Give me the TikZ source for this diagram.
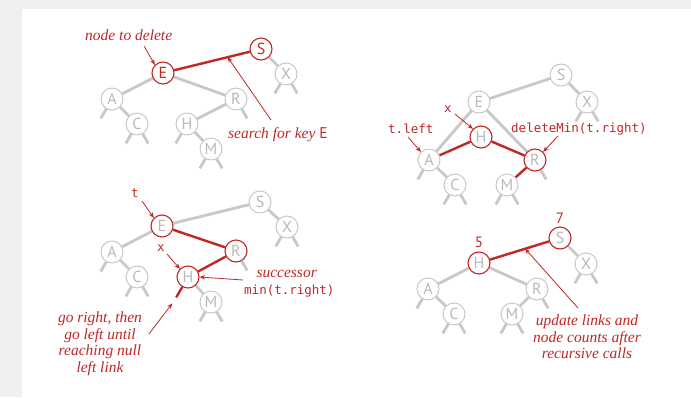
\documentclass[tikz,border=0pt]{standalone}
\usepackage{fontspec}
\setsansfont{PT Sans}
\setmonofont{DejaVu Sans Mono}
\newfontfamily\labfont{Liberation Serif}
\usetikzlibrary{arrows.meta,calc}
\definecolor{myred}{RGB}{192,40,38}
\definecolor{egray}{RGB}{200,200,200}
\definecolor{ngray}{RGB}{196,196,196}
\definecolor{ltxt}{RGB}{185,185,185}
\definecolor{pagegray}{RGB}{239,239,239}
\pgfdeclarelayer{back}
\pgfdeclarelayer{bg}
\pgfsetlayers{back,bg,main}
\tikzset{
  nd/.style={circle, draw=ngray, line width=0.9pt, fill=white, inner sep=0pt,
    minimum size=22pt, text=ltxt, font=\sffamily\fontsize{16}{16}\selectfont},
  rnd/.style={nd, draw=myred, line width=1.1pt},
  rndr/.style={rnd, text=myred},
  gedge/.style={draw=egray, line width=2.8pt},
  redge/.style={draw=myred, line width=2.4pt},
  arr/.style={-{Stealth[length=5.5pt,width=4.5pt]}, draw=myred, line width=0.8pt},
  lab/.style={text=myred, font=\labfont\itshape\fontsize{15.5}{16.5}\selectfont, align=center, inner sep=0pt},
  tlab/.style={text=myred, font=\ttfamily\fontsize{12.5}{15}\selectfont, inner sep=0pt},
  nlab/.style={text=myred, font=\sffamily\fontsize{15}{15}\selectfont, inner sep=0pt},
}
\newcommand{\stubl}[2][gedge]{\draw[#1] (#2.240) -- ++(240:11pt);}
\newcommand{\stubr}[2][gedge]{\draw[#1] (#2.300) -- ++(300:11pt);}
\begin{document}
\begin{tikzpicture}[x=1pt,y=-1pt]
\begin{pgfonlayer}{back}
\fill[pagegray] (0,0) rectangle (691,397);
\fill[white] (22,9) rectangle (691,397);
\end{pgfonlayer}
\useasboundingbox (0,0) rectangle (691,397);

% ---------------- panel 1 ----------------
\node[rndr] (aS) at (261,49) {S};
\node[rndr] (aE) at (163,73) {E};
\node[nd] (aX) at (286,74) {X};
\node[nd] (aA) at (112,99) {A};
\node[nd] (aR) at (236,99) {R};
\node[nd] (aC) at (137,124) {C};
\node[nd] (aH) at (187,124) {H};
\node[nd] (aM) at (211,149) {M};
\begin{pgfonlayer}{bg}
\draw[redge] (aS) -- (aE);
\draw[gedge] (aS) -- (aX);
\draw[gedge] (aE) -- (aA);
\draw[gedge] (aE) -- (aR);
\draw[gedge] (aA) -- (aC);
\draw[gedge] (aR) -- (aH);
\draw[gedge] (aH) -- (aM);
\stubl{aA}\stubl{aC}\stubr{aC}\stubr{aR}\stubl{aH}\stubl{aM}\stubr{aM}\stubl{aX}\stubr{aX}
\end{pgfonlayer}
\node[lab, anchor=base west] (t1) at (85,40) {node to delete};
\coordinate (t1s) at (144,46);
\draw[arr] (t1s) -- (aE.135);
\node[lab, anchor=base west] (t2) at (228,138) {search for key \textup{\sffamily E}};
\coordinate (t2s) at (271,120);
\coordinate (t2e) at ($(aE)!0.66!(aS)$);
\draw[arr] (t2s) -- (t2e);

% ---------------- panel 2 ----------------
\node[nd] (bS) at (561,75) {S};
\node[nd] (bE) at (479,102) {E};
\node[nd] (bX) at (587,102) {X};
\node[rnd] (bH) at (481,137) {H};
\node[nd] (bA) at (429,160) {A};
\node[rnd] (bR) at (535,160) {R};
\node[nd] (bC) at (455,185) {C};
\node[nd] (bM) at (507,185) {M};
\begin{pgfonlayer}{bg}
\draw[gedge] (bS) -- (bE);
\draw[gedge] (bS) -- (bX);
\draw[gedge] (bE) -- (bA);
\draw[gedge] (bE) -- (bR);
\draw[gedge] (bA) -- (bC);
\draw[redge] (bH) -- (bA);
\draw[redge] (bH) -- (bR);
\draw[redge] (bR) -- (bM);
\stubl{bA}\stubl{bC}\stubr{bC}\stubr{bR}\stubl{bM}\stubr{bM}\stubl{bX}\stubr{bX}
\end{pgfonlayer}
\node[tlab, anchor=base] (u1) at (448,112) {x};
\coordinate (u1s) at (455,114);
\draw[arr] (u1s) -- (bH.135);
\node[tlab, anchor=base west] (u2) at (388,133) {t.left};
\coordinate (u2s) at (408,137);
\draw[arr] (u2s) -- (bA.135);
\node[tlab, anchor=base west] (u3) at (511,132) {deleteMin(t.right)};
\coordinate (u3s) at (558,136);
\draw[arr] (u3s) -- (bR.45);

% ---------------- panel 3 ----------------
\node[nd] (cS) at (260,202) {S};
\node[rnd] (cE) at (162,226) {E};
\node[nd] (cX) at (287,227) {X};
\node[nd] (cA) at (112,252) {A};
\node[rnd] (cR) at (236,251) {R};
\node[nd] (cC) at (137,277) {C};
\node[rnd] (cH) at (188,277) {H};
\node[nd] (cM) at (211,302) {M};
\begin{pgfonlayer}{bg}
\draw[gedge] (cS) -- (cE);
\draw[gedge] (cS) -- (cX);
\draw[gedge] (cE) -- (cA);
\draw[gedge] (cA) -- (cC);
\draw[redge] (cE) -- (cR);
\draw[redge] (cR) -- (cH);
\draw[gedge] (cH) -- (cM);
\stubl{cA}\stubl{cC}\stubr{cC}\stubr{cR}\stubl{cM}\stubr{cM}\stubl{cX}\stubr{cX}
\end{pgfonlayer}
\coordinate (cHn) at ($(cH.240)+(240:12pt)$);
\draw[redge] (cH.240) -- (cHn);
\node[tlab, anchor=base west] (v1) at (131,197) {t};
\coordinate (v1s) at (142,201);
\draw[arr] (v1s) -- (cE.135);
\node[tlab, anchor=base west] (v2) at (157,251) {x};
\coordinate (v2s) at (167,254);
\draw[arr] (v2s) -- (cH.135);
\node[lab, anchor=base east] (v3) at (317,277) {successor};
\node[tlab, anchor=base west] (v4) at (244,294) {min(t.right)};
\coordinate (v3s) at (243,280);
\draw[arr] (v3s) -- (cH.east);
\node[lab, anchor=north] (v5) at (100,312) {go right, then\\go left until\\reaching null\\left link};
\coordinate (v5s) at (149,334);
\coordinate (v5e) at ($(cHn)+(-4,6)$);
\draw[arr] (v5s) -- (v5e);

% ---------------- panel 4 ----------------
\node[rnd] (dS) at (560,238) {S};
\node[rnd] (dH) at (479,263) {H};
\node[nd] (dX) at (586,264) {X};
\node[nd] (dA) at (428,289) {A};
\node[nd] (dR) at (537,289) {R};
\node[nd] (dC) at (454,314) {C};
\node[nd] (dM) at (512,314) {M};
\begin{pgfonlayer}{bg}
\draw[redge] (dS) -- (dH);
\draw[gedge] (dS) -- (dX);
\draw[gedge] (dH) -- (dA);
\draw[gedge] (dH) -- (dR);
\draw[gedge] (dA) -- (dC);
\draw[gedge] (dR) -- (dM);
\stubl{dA}\stubl{dC}\stubr{dC}\stubr{dR}\stubl{dM}\stubr{dM}\stubl{dX}\stubr{dX}
\end{pgfonlayer}
\node[nlab, anchor=base] (w1) at (479,247) {5};
\node[nlab, anchor=base] (w2) at (560,223) {7};
\node[lab, anchor=north] (w3) at (587,315) {update links and\\node counts after\\recursive calls};
\coordinate (w3s) at (578,308);
\coordinate (w3e) at ($(dH)!0.57!(dS)$);
\draw[arr] (w3s) -- (w3e);
\end{tikzpicture}
\end{document}
